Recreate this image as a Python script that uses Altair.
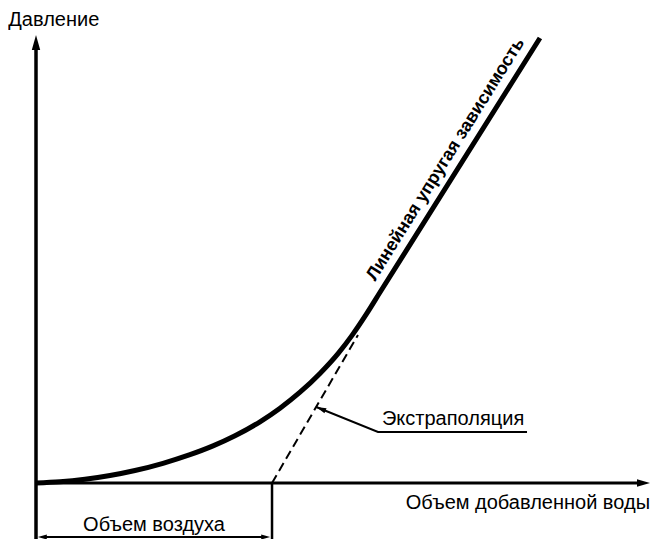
import altair as alt
import pandas as pd

# ---- data (abstract units: volume 0..100, pressure 0..100) ----
curve_x = [0.0, 3.91, 7.98, 12.05, 16.12, 20.68, 25.08, 28.83, 32.41, 36.48, 39.74, 43.0, 46.25, 49.19, 51.47, 53.75, 56.03, 82.08]
curve_y = [0.0, 0.27, 0.83, 1.66, 2.78, 4.40, 6.32, 8.28, 10.54, 13.66, 16.70, 20.27, 24.46, 28.88, 32.95, 37.57, 42.57, 99.33]

air_volume = 38.44          # end of "Объем воздуха"
extrap_end = [52.44, 33.04] # top of dashed extrapolation
dim_level = -12.05          # level of the dimension arrow
ext_bottom = -14.0          # bottom of extension lines

leader_x = [45.64, 55.7, 79.97]
leader_y = [16.96, 11.38, 11.38]

labels_text = ["Давление", "Объем добавленной воды", "Объем воздуха", "Экстраполяция"]
labels_x = [2.9, 100.0, 19.22, 56.35]
labels_y = [102.0, -5.8, -10.7, 12.95]
labels_align = ["center", "right", "center", "left"]

slope_label = "Линейная упругая зависимость"
slope_label_pos = [67.43, 71.65]

FONT = "Liberation Sans"

X = lambda f="x": alt.X(f + ":Q", scale=alt.Scale(domain=[0, 100], range=[28, 642], nice=False, zero=False), axis=None)
Y = lambda f="y": alt.Y(f + ":Q", scale=alt.Scale(domain=[0, 100], range=[475, 27], nice=False, zero=False), axis=None)


def seg(rows, width, dash=None):
    df = pd.DataFrame(rows, columns=["x", "y", "x2", "y2"])
    kw = dict(color="black", strokeWidth=width, strokeCap="butt")
    if dash:
        kw["strokeDash"] = dash
    return alt.Chart(df).mark_rule(**kw).encode(
        x=X(), y=Y(), x2="x2:Q", y2="y2:Q"
    )


ARROW = "M0,0L-0.28,1L0.28,1Z"


def arrow(x, y, angle, size):
    df = pd.DataFrame({"x": [x], "y": [y]})
    return alt.Chart(df).mark_point(
        shape=ARROW, filled=True, color="black", opacity=1, size=size, angle=angle, strokeWidth=0
    ).encode(x=X(), y=Y())


# axes
y_axis = seg([[0, ext_bottom, 0, 97]], 3.5)
x_axis = seg([[0, 0, 98, 0]], 3)
y_head = arrow(0, 100, 0, 900)
x_head = arrow(100, 0, 90, 676)

# dimension for air volume
ext_line = seg([[air_volume, 0, air_volume, ext_bottom]], 2.5)
dim_line = seg([[1.2, dim_level, air_volume - 1.2, dim_level]], 2)
dim_l = arrow(0.3, dim_level, 270, 324)
dim_r = arrow(air_volume - 0.3, dim_level, 90, 324)

# curve
curve_df = pd.DataFrame({"x": curve_x, "y": curve_y, "o": range(len(curve_x))})
curve = alt.Chart(curve_df).mark_line(
    color="black", strokeWidth=5, interpolate="monotone", strokeCap="butt"
).encode(x=X(), y=Y(), order="o:Q")

# extrapolation
dashed = seg([[air_volume, 0, extrap_end[0], extrap_end[1]]], 2, dash=[9, 5])

# leader
leader_df = pd.DataFrame({"x": leader_x, "y": leader_y, "o": [0, 1, 2]})
leader = alt.Chart(leader_df).mark_line(color="black", strokeWidth=2).encode(
    x=X(), y=Y(), order="o:Q"
)
leader_head = arrow(leader_x[0], leader_y[0], 292, 400)

# labels
text_layers = []
for t, lx, ly, al in zip(labels_text, labels_x, labels_y, labels_align):
    df = pd.DataFrame({"x": [lx], "y": [ly], "t": [t]})
    text_layers.append(
        alt.Chart(df).mark_text(
            font=FONT, fontSize=20, color="black", align=al, baseline="alphabetic"
        ).encode(x=X(), y=Y(), text="t:N")
    )

slope_df = pd.DataFrame({"x": [slope_label_pos[0]], "y": [slope_label_pos[1]], "t": [slope_label]})
slope_text = alt.Chart(slope_df).mark_text(
    font=FONT, fontSize=18, fontWeight="bold", color="black", align="center",
    baseline="alphabetic", angle=302
).encode(x=X(), y=Y(), text="t:N")

chart = alt.layer(
    y_axis, x_axis, y_head, x_head, ext_line, dim_line, dim_l, dim_r,
    dashed, curve, leader, leader_head, *text_layers, slope_text
).properties(
    width=643, height=531, padding=0,
    autosize=alt.AutoSizeParams(type="none"),
    background="white",
).configure_view(stroke=None)

chart.save("out.html", embed_options={"renderer": "svg", "actions": False})
